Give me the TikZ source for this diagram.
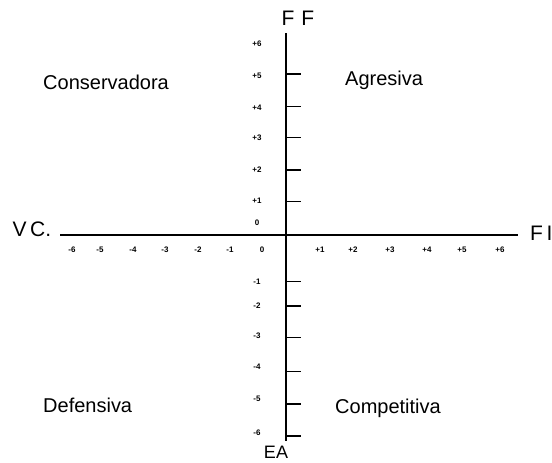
\documentclass[tikz,border=0pt]{standalone}
\usepackage{fontspec}
\setmainfont{Liberation Sans}
\begin{document}
\begin{tikzpicture}[x=1pt,y=-1pt,
  axis/.style={line width=1.6pt,black},
  tk/.style={line width=1.4pt,black},
  num/.style={font=\fontsize{8}{9}\selectfont\bfseries,inner sep=0pt},
  quad/.style={font=\fontsize{20}{22}\selectfont,inner sep=0pt,anchor=west},
  axlab/.style={font=\fontsize{21}{23}\selectfont,inner sep=0pt}]
\useasboundingbox (0,0) rectangle (552,463);
\fill[white] (0,0) rectangle (552,463);
% axes
\coordinate (vtop) at (286,33);
\coordinate (vbot) at (286,441);
\coordinate (hl) at (60,235);
\coordinate (hr) at (518,235);
\draw[axis] (vtop) -- (vbot);
\draw[axis] (hl) -- (hr);
% ticks on vertical axis
\foreach \n/\y in {p5/74,p4/106.7,p3/137.3,p2/170,p1/201.3,m1/281.7,m2/306,m3/337.7,m4/371.7,m5/404,m6/436}{
  \coordinate (t\n a) at (286,\y);
  \coordinate (t\n b) at (301,\y);
  \draw[tk] (t\n a) -- (t\n b);
}
% vertical labels
\foreach \n/\t/\y in {a/+6/44,b/+5/76,c/+4/108,d/+3/138,e/+2/170,f/+1/201,g/0/223,h/-1/282,i/-2/306,j/-3/336,k/-4/367,l/-5/399,m/-6/433}{
  \node[num] (v\n) at (257,\y) {\t};
}
% horizontal labels
\foreach \n/\t/\x in {a/-6/72,b/-5/100,c/-4/133,d/-3/165,e/-2/198,f/-1/230,g/0/262,h/+1/320,i/+2/353,j/+3/390,k/+4/427,l/+5/462,m/+6/500}{
  \node[num] (h\n) at (\x,250) {\t};
}
% axis names
\node[axlab] (ff) at (298,18) {F\,\,F};
\node[axlab,font=\fontsize{18}{20}\selectfont,anchor=south] (ea) at (276,459) {EA};
\node[axlab] (vc) at (32,229) {V\,C.};
\node[axlab,anchor=west] (fi) at (530,233) {F\,I};
% quadrants
\node[quad] (cons) at (43,82) {Conservadora};
\node[quad] (agr) at (345,80) {Agresiva};
\node[quad] (def) at (43,405) {Defensiva};
\node[quad] (comp) at (335,408) {Competitiva};
\end{tikzpicture}
\end{document}
